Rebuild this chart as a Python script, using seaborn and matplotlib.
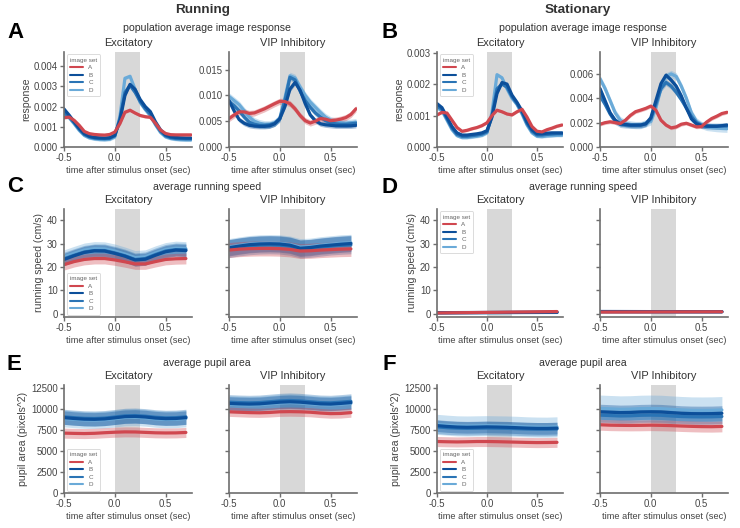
import numpy as np
import matplotlib
matplotlib.use("Agg")
import matplotlib.pyplot as plt
from matplotlib.lines import Line2D
import seaborn as sns

sns.set_style("ticks")
plt.rcParams['font.family'] = ['Liberation Sans', 'DejaVu Sans']
plt.rcParams['axes.unicode_minus'] = False
plt.rcParams['axes.edgecolor'] = '#6e6e6e'
plt.rcParams['xtick.color'] = '#6e6e6e'
plt.rcParams['ytick.color'] = '#6e6e6e'
plt.rcParams['xtick.labelcolor'] = '#444444'
plt.rcParams['ytick.labelcolor'] = '#444444'

image_sets = ['A', 'B', 'C', 'D']
colors = {'A': '#d0474f', 'B': '#0c4f9a', 'C': '#2a74b5', 'D': '#6aaad8'}

# time axes (sec)
t_resp = [-0.5, -0.45, -0.4, -0.35, -0.3, -0.25, -0.2, -0.15, -0.1, -0.05, 0.0, 0.05, 0.1,
          0.15, 0.2, 0.25, 0.3, 0.35, 0.4, 0.45, 0.5, 0.55, 0.6, 0.65, 0.7, 0.75]
t_beh = [-0.5, -0.4, -0.3, -0.2, -0.1, 0.0, 0.1, 0.2, 0.3, 0.4, 0.5, 0.6, 0.7]

# --- population response, values in units of 0.001 ---
run_exc_A = [1.45, 1.48, 1.32, 1.07, 0.77, 0.66, 0.62, 0.6, 0.59, 0.62, 0.74, 1.15, 1.72, 1.82, 1.68, 1.56, 1.5, 1.47, 1.18, 0.84, 0.67, 0.61, 0.6, 0.6, 0.6, 0.6]
run_exc_B = [1.88, 1.58, 1.25, 0.92, 0.66, 0.53, 0.47, 0.45, 0.44, 0.46, 0.58, 1.3, 2.55, 3.1, 2.85, 2.35, 2.0, 1.75, 1.25, 0.85, 0.6, 0.5, 0.47, 0.45, 0.44, 0.44]
run_exc_C = [1.7, 1.5, 1.2, 0.88, 0.62, 0.5, 0.44, 0.42, 0.41, 0.43, 0.55, 1.4, 2.7, 3.05, 2.7, 2.25, 1.9, 1.62, 1.15, 0.78, 0.55, 0.46, 0.42, 0.41, 0.4, 0.4]
run_exc_D = [1.6, 1.45, 1.15, 0.82, 0.57, 0.45, 0.4, 0.37, 0.36, 0.38, 0.5, 1.5, 3.4, 3.5, 2.85, 2.2, 1.85, 1.55, 1.1, 0.72, 0.5, 0.42, 0.38, 0.36, 0.35, 0.35]
run_exc_sem = {'A': 0.07, 'B': 0.08, 'C': 0.08, 'D': 0.08}

run_vip_A = [5.5, 6.2, 6.8, 6.8, 6.5, 6.6, 7.0, 7.4, 7.9, 8.4, 8.85, 8.8, 8.4, 7.4, 6.1, 5.1, 4.65, 5.0, 5.5, 5.4, 5.1, 5.2, 5.4, 5.7, 6.3, 7.4]
run_vip_B = [9.0, 7.0, 5.3, 4.6, 4.2, 4.05, 4.0, 4.0, 4.1, 4.5, 5.5, 7.8, 11.2, 12.5, 11.0, 8.4, 6.2, 5.1, 4.5, 4.3, 4.2, 4.1, 4.1, 4.1, 4.1, 4.2]
run_vip_C = [8.8, 8.0, 7.0, 5.8, 4.8, 4.4, 4.2, 4.2, 4.3, 4.6, 5.4, 9.0, 13.5, 13.0, 10.8, 9.0, 7.7, 6.6, 5.8, 5.1, 4.7, 4.5, 4.4, 4.4, 4.5, 4.6]
run_vip_D = [9.8, 9.0, 8.2, 7.0, 5.8, 5.0, 4.6, 4.4, 4.4, 4.7, 5.6, 9.5, 13.8, 13.4, 11.6, 10.0, 8.7, 7.7, 6.7, 5.8, 5.2, 4.9, 4.7, 4.6, 4.7, 4.8]
run_vip_sem = {'A': 0.6, 'B': 0.5, 'C': 0.6, 'D': 0.7}

sta_exc_A = [1.02, 1.1, 1.08, 0.85, 0.62, 0.5, 0.53, 0.58, 0.62, 0.68, 0.77, 1.0, 1.17, 1.12, 1.05, 1.02, 1.12, 1.2, 0.95, 0.65, 0.5, 0.48, 0.55, 0.6, 0.66, 0.7]
sta_exc_B = [1.38, 1.25, 0.95, 0.65, 0.45, 0.38, 0.38, 0.4, 0.42, 0.45, 0.52, 0.95, 1.7, 2.05, 2.0, 1.65, 1.42, 1.15, 0.8, 0.55, 0.42, 0.42, 0.44, 0.45, 0.45, 0.45]
sta_exc_C = [1.3, 1.2, 0.9, 0.6, 0.4, 0.34, 0.34, 0.36, 0.38, 0.41, 0.48, 1.0, 1.85, 2.0, 1.9, 1.6, 1.38, 1.1, 0.75, 0.5, 0.38, 0.38, 0.4, 0.41, 0.42, 0.42]
sta_exc_D = [1.25, 1.15, 0.85, 0.55, 0.36, 0.3, 0.3, 0.32, 0.34, 0.37, 0.45, 1.1, 2.3, 2.2, 1.85, 1.55, 1.35, 1.05, 0.7, 0.45, 0.34, 0.33, 0.35, 0.36, 0.37, 0.37]
sta_exc_sem = {'A': 0.04, 'B': 0.04, 'C': 0.04, 'D': 0.05}

sta_vip_A = [1.87, 2.0, 2.07, 2.0, 1.93, 2.2, 2.6, 2.9, 3.03, 3.17, 3.36, 3.03, 2.2, 1.8, 1.57, 1.65, 1.87, 1.95, 1.8, 1.65, 1.68, 2.05, 2.34, 2.53, 2.75, 2.85]
sta_vip_B = [4.8, 3.8, 2.8, 2.2, 1.9, 1.85, 1.8, 1.8, 1.8, 1.9, 2.4, 3.8, 5.2, 5.9, 5.5, 5.0, 4.2, 3.2, 2.3, 1.9, 1.75, 1.7, 1.7, 1.7, 1.75, 1.8]
sta_vip_C = [4.2, 3.5, 2.7, 2.1, 1.85, 1.8, 1.78, 1.78, 1.8, 1.9, 2.3, 3.5, 4.8, 5.3, 5.0, 4.5, 3.9, 3.2, 2.5, 2.0, 1.8, 1.75, 1.72, 1.72, 1.72, 1.72]
sta_vip_D = [5.6, 4.8, 3.8, 2.8, 2.2, 1.95, 1.85, 1.8, 1.8, 1.95, 2.1, 3.2, 4.8, 5.8, 6.0, 5.8, 5.0, 4.0, 2.8, 2.1, 1.8, 1.65, 1.6, 1.55, 1.52, 1.5]
sta_vip_sem = {'A': 0.15, 'B': 0.2, 'C': 0.25, 'D': 0.3}

# --- running speed (cm/s) ---
run_speed_exc_A = [21.0, 22.3, 23.2, 23.6, 23.6, 23.0, 22.2, 21.3, 21.3, 22.3, 23.2, 23.5, 23.6]
run_speed_exc_B = [23.2, 24.8, 26.2, 26.9, 26.8, 25.8, 24.6, 23.0, 23.3, 25.0, 26.5, 27.2, 27.0]
run_speed_exc_C = [23.5, 25.0, 26.4, 27.0, 27.0, 26.0, 24.8, 23.2, 23.6, 25.3, 26.8, 27.4, 27.3]
run_speed_exc_D = [24.3, 25.8, 27.2, 27.8, 27.7, 26.8, 25.5, 24.0, 24.3, 26.0, 27.4, 28.0, 27.8]
run_speed_exc_sem = {'A': 2.3, 'B': 2.6, 'C': 2.8, 'D': 3.0}

run_speed_vip_A = [27.2, 27.6, 27.8, 27.9, 27.9, 27.8, 27.5, 26.8, 26.9, 27.2, 27.4, 27.6, 27.7]
run_speed_vip_B = [28.2, 28.9, 29.5, 29.8, 29.9, 29.8, 29.3, 28.0, 28.3, 28.9, 29.3, 29.7, 30.0]
run_speed_vip_C = [27.8, 28.5, 29.0, 29.3, 29.4, 29.3, 28.8, 27.7, 27.9, 28.4, 28.9, 29.2, 29.4]
run_speed_vip_D = [28.5, 29.2, 29.8, 30.1, 30.2, 30.1, 29.6, 28.5, 28.7, 29.3, 29.7, 30.1, 30.3]
run_speed_vip_sem = {'A': 3.2, 'B': 3.5, 'C': 3.8, 'D': 3.6}

sta_speed_exc_A = [0.40, 0.47, 0.52, 0.56, 0.61, 0.66, 0.70, 0.76, 0.82, 0.86, 0.92, 0.97, 1.02]
sta_speed_exc_B = [0.55, 0.56, 0.58, 0.60, 0.61, 0.63, 0.64, 0.66, 0.67, 0.69, 0.70, 0.71, 0.72]
sta_speed_exc_C = [0.50, 0.52, 0.54, 0.55, 0.57, 0.58, 0.60, 0.61, 0.63, 0.64, 0.65, 0.66, 0.67]
sta_speed_exc_D = [0.45, 0.47, 0.49, 0.51, 0.52, 0.54, 0.55, 0.57, 0.58, 0.60, 0.61, 0.62, 0.63]
sta_speed_exc_sem = {'A': 0.25, 'B': 0.2, 'C': 0.2, 'D': 0.2}

sta_speed_vip_A = [0.80, 0.81, 0.82, 0.83, 0.84, 0.85, 0.86, 0.87, 0.88, 0.89, 0.90, 0.91, 0.92]
sta_speed_vip_B = [1.05, 1.04, 1.03, 1.02, 1.01, 1.00, 1.00, 0.99, 0.99, 0.98, 0.98, 0.98, 0.98]
sta_speed_vip_C = [1.00, 0.99, 0.98, 0.98, 0.97, 0.97, 0.96, 0.96, 0.95, 0.95, 0.95, 0.94, 0.94]
sta_speed_vip_D = [0.95, 0.95, 0.94, 0.94, 0.93, 0.93, 0.93, 0.92, 0.92, 0.92, 0.91, 0.91, 0.91]
sta_speed_vip_sem = {'A': 0.25, 'B': 0.25, 'C': 0.25, 'D': 0.25}

# --- pupil area (pixels^2) ---
run_pupil_exc_A = [7150, 7120, 7100, 7130, 7200, 7260, 7300, 7290, 7240, 7190, 7170, 7180, 7230]
run_pupil_exc_B = [9000, 8900, 8820, 8800, 8850, 8980, 9120, 9150, 9080, 8950, 8880, 8900, 9000]
run_pupil_exc_C = [9100, 9000, 8920, 8900, 8950, 9080, 9220, 9250, 9180, 9050, 8980, 9000, 9100]
run_pupil_exc_D = [8900, 8800, 8720, 8700, 8750, 8880, 9020, 9050, 8980, 8850, 8780, 8800, 8900]
run_pupil_exc_sem = {'A': 600, 'B': 800, 'C': 900, 'D': 1000}

run_pupil_vip_A = [9700, 9650, 9600, 9580, 9620, 9700, 9720, 9700, 9650, 9550, 9480, 9500, 9600]
run_pupil_vip_B = [10700, 10650, 10620, 10650, 10750, 10850, 10900, 10850, 10750, 10650, 10620, 10700, 10800]
run_pupil_vip_C = [10850, 10800, 10770, 10800, 10900, 11000, 11050, 11000, 10900, 10800, 10770, 10850, 10950]
run_pupil_vip_D = [10600, 10550, 10520, 10550, 10650, 10750, 10800, 10750, 10650, 10550, 10520, 10600, 10700]
run_pupil_vip_sem = {'A': 550, 'B': 800, 'C': 900, 'D': 1000}

sta_pupil_exc_A = [6150, 6120, 6100, 6120, 6150, 6150, 6130, 6100, 6070, 6040, 6020, 6030, 6050]
sta_pupil_exc_B = [8050, 7950, 7880, 7850, 7870, 7900, 7880, 7850, 7800, 7750, 7720, 7720, 7750]
sta_pupil_exc_C = [7900, 7800, 7750, 7720, 7740, 7760, 7740, 7720, 7680, 7640, 7620, 7620, 7650]
sta_pupil_exc_D = [8200, 8100, 8020, 8000, 8020, 8040, 8020, 8000, 7960, 7900, 7870, 7860, 7900]
sta_pupil_exc_sem = {'A': 600, 'B': 700, 'C': 800, 'D': 1200}

sta_pupil_vip_A = [8150, 8100, 8080, 8070, 8080, 8100, 8080, 8050, 8000, 7960, 7930, 7920, 7950]
sta_pupil_vip_B = [9700, 9650, 9600, 9620, 9680, 9700, 9680, 9600, 9520, 9480, 9470, 9480, 9520]
sta_pupil_vip_C = [9300, 9250, 9200, 9220, 9280, 9300, 9280, 9200, 9130, 9100, 9090, 9100, 9140]
sta_pupil_vip_D = [10100, 10050, 10000, 10020, 10080, 10100, 10080, 10000, 9930, 9880, 9870, 9880, 9920]
sta_pupil_vip_sem = {'A': 650, 'B': 900, 'C': 900, 'D': 1600}

W, H = 740, 528
fig = plt.figure(figsize=(W / 100, H / 100), dpi=100)

def add_ax(x0, y0, x1, y1):
    return fig.add_axes([x0 / W, 1 - y1 / H, (x1 - x0) / W, (y1 - y0) / H])

def draw(ax, t, series, sems, scale=1.0):
    ax.axvspan(0, 0.25, color='#d8d8d8', lw=0, zorder=0)
    for name in ['D', 'C', 'B', 'A']:
        y = np.array(series[name]) * scale
        s = sems[name] * scale
        ax.fill_between(t, y - s, y + s, color=colors[name], alpha=0.35, lw=0)
        sns.lineplot(x=t, y=y, color=colors[name], lw=2.3, ax=ax, legend=False)
    ax.set_xlim(-0.5, 0.76)
    ax.set_xticks([-0.5, 0.0, 0.5])
    ax.set_xlabel('time after stimulus onset (sec)', fontsize=6.7, color='#444444', labelpad=2)
    ax.tick_params(labelsize=6.9, length=3, width=1, pad=1.5)
    for sp in ax.spines.values():
        sp.set_linewidth(1.2)
    sns.despine(ax=ax)

def add_legend(ax, loc):
    handles = [Line2D([0], [0], color=colors[n], lw=1.5) for n in image_sets]
    leg = ax.legend(handles, image_sets, title='image set', loc=loc, fontsize=4.5,
                    title_fontsize=4.5, frameon=True, handlelength=2.2, labelspacing=0.35,
                    borderaxespad=0.4, borderpad=0.5, alignment='left')
    leg.get_frame().set_edgecolor('#cccccc')
    leg.get_frame().set_linewidth(0.6)
    for txt in leg.get_texts():
        txt.set_color('#666666')
    leg.get_title().set_color('#666666')

def titles(ax, name):
    ax.set_title(name, fontsize=7.9, color='#333333', pad=4)

txt_kw = dict(color='#333333', ha='center', va='center')
letter_kw = dict(fontsize=16, fontweight='bold', color='black', ha='center', va='center')

# column x positions (px)
cols = {'run_exc': (64, 192), 'run_vip': (229, 357), 'sta_exc': (437, 563), 'sta_vip': (600, 728)}
rows = {'resp': (52, 147), 'speed': (209, 317), 'pupil': (385, 493)}

panel_data = {
    ('resp', 'run_exc'): (t_resp, {'A': run_exc_A, 'B': run_exc_B, 'C': run_exc_C, 'D': run_exc_D}, run_exc_sem, 1e-3),
    ('resp', 'run_vip'): (t_resp, {'A': run_vip_A, 'B': run_vip_B, 'C': run_vip_C, 'D': run_vip_D}, run_vip_sem, 1e-3),
    ('resp', 'sta_exc'): (t_resp, {'A': sta_exc_A, 'B': sta_exc_B, 'C': sta_exc_C, 'D': sta_exc_D}, sta_exc_sem, 1e-3),
    ('resp', 'sta_vip'): (t_resp, {'A': sta_vip_A, 'B': sta_vip_B, 'C': sta_vip_C, 'D': sta_vip_D}, sta_vip_sem, 1e-3),
    ('speed', 'run_exc'): (t_beh, {'A': run_speed_exc_A, 'B': run_speed_exc_B, 'C': run_speed_exc_C, 'D': run_speed_exc_D}, run_speed_exc_sem, 1.0),
    ('speed', 'run_vip'): (t_beh, {'A': run_speed_vip_A, 'B': run_speed_vip_B, 'C': run_speed_vip_C, 'D': run_speed_vip_D}, run_speed_vip_sem, 1.0),
    ('speed', 'sta_exc'): (t_beh, {'A': sta_speed_exc_A, 'B': sta_speed_exc_B, 'C': sta_speed_exc_C, 'D': sta_speed_exc_D}, sta_speed_exc_sem, 1.0),
    ('speed', 'sta_vip'): (t_beh, {'A': sta_speed_vip_A, 'B': sta_speed_vip_B, 'C': sta_speed_vip_C, 'D': sta_speed_vip_D}, sta_speed_vip_sem, 1.0),
    ('pupil', 'run_exc'): (t_beh, {'A': run_pupil_exc_A, 'B': run_pupil_exc_B, 'C': run_pupil_exc_C, 'D': run_pupil_exc_D}, run_pupil_exc_sem, 1.0),
    ('pupil', 'run_vip'): (t_beh, {'A': run_pupil_vip_A, 'B': run_pupil_vip_B, 'C': run_pupil_vip_C, 'D': run_pupil_vip_D}, run_pupil_vip_sem, 1.0),
    ('pupil', 'sta_exc'): (t_beh, {'A': sta_pupil_exc_A, 'B': sta_pupil_exc_B, 'C': sta_pupil_exc_C, 'D': sta_pupil_exc_D}, sta_pupil_exc_sem, 1.0),
    ('pupil', 'sta_vip'): (t_beh, {'A': sta_pupil_vip_A, 'B': sta_pupil_vip_B, 'C': sta_pupil_vip_C, 'D': sta_pupil_vip_D}, sta_pupil_vip_sem, 1.0),
}

ylims = {
    ('resp', 'run_exc'): (0, 0.0047), ('resp', 'run_vip'): (0, 0.0184),
    ('resp', 'sta_exc'): (0, 0.00302), ('resp', 'sta_vip'): (0, 0.0078),
}
ylabels = {'resp': 'response', 'speed': 'running speed (cm/s)', 'pupil': 'pupil area (pixels^2)'}
legend_loc = {('resp', 'run'): 'upper left', ('resp', 'sta'): 'upper left',
              ('speed', 'run'): 'lower left', ('speed', 'sta'): 'upper left',
              ('pupil', 'run'): 'lower left', ('pupil', 'sta'): 'lower left'}

for (row, col), (t, series, sems, scale) in panel_data.items():
    x0, x1 = cols[col]
    y0, y1 = rows[row]
    ax = add_ax(x0, y0, x1, y1)
    draw(ax, t, series, sems, scale)
    titles(ax, 'Excitatory' if col.endswith('exc') else 'VIP Inhibitory')
    if row == 'resp':
        ax.set_ylim(*ylims[(row, col)])
        if col == 'run_exc':
            ax.set_yticks([0, 0.001, 0.002, 0.003, 0.004])
        elif col == 'run_vip':
            ax.set_yticks([0, 0.005, 0.010, 0.015])
        elif col == 'sta_exc':
            ax.set_yticks([0, 0.001, 0.002, 0.003])
        else:
            ax.set_yticks([0, 0.002, 0.004, 0.006])
        ax.yaxis.set_major_formatter(matplotlib.ticker.FormatStrFormatter('%.3f'))
    elif row == 'speed':
        ax.set_ylim(-1.3, 44.7)
        ax.set_yticks([0, 10, 20, 30, 40])
    else:
        ax.set_ylim(0, 12900)
        ax.set_yticks([0, 2500, 5000, 7500, 10000, 12500])
    if col.endswith('exc'):
        ax.set_ylabel(ylabels[row], fontsize=7.6, color='#444444', labelpad=2)
        add_legend(ax, legend_loc[(row, col[:3])])
    else:
        ax.set_ylabel('')
        if row != 'resp':
            ax.set_yticklabels([])

fig.text(203 / W, 1 - 10 / H, 'Running', fontsize=9.7, fontweight='bold', **txt_kw)
fig.text(578 / W, 1 - 10 / H, 'Stationary', fontsize=9.7, fontweight='bold', **txt_kw)
subs = [('population average image response', 28), ('average running speed', 187), ('average pupil area', 363)]
for label, yy in subs:
    fig.text(207 / W, 1 - yy / H, label, fontsize=7.6, **txt_kw)
    fig.text(583 / W, 1 - yy / H, label, fontsize=7.6, **txt_kw)

for letter, xx, yy in [('A', 16, 33), ('B', 390, 33), ('C', 15, 186), ('D', 390, 187), ('E', 14, 364), ('F', 389, 364)]:
    fig.text(xx / W, 1 - yy / H, letter, **letter_kw)

fig.savefig('out.png', dpi=100)
